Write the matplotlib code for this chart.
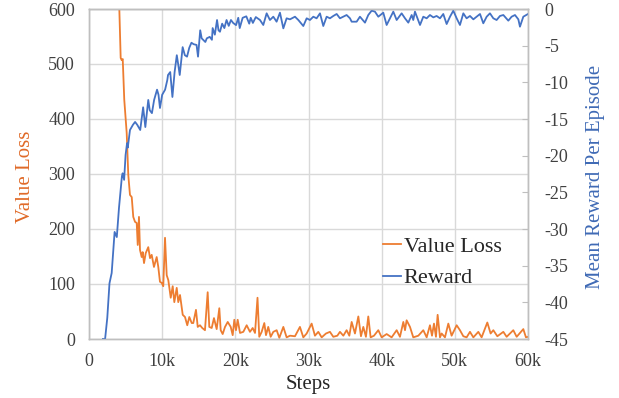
import matplotlib
matplotlib.use("Agg")
import matplotlib.pyplot as plt
from matplotlib.ticker import FuncFormatter

plt.rcParams['font.family'] = ['Liberation Serif', 'DejaVu Serif']
plt.rcParams['axes.unicode_minus'] = False

# ---- Reward (right axis) : steps in thousands ----
reward_steps_k = [1.9, 2.2, 2.5, 2.8, 3.1, 3.5, 3.8, 4.1, 4.5, 4.6, 4.8, 5.0, 5.2, 5.3, 5.6,
                  6.0, 6.3, 6.6, 7.0, 7.4, 7.7, 8.1, 8.3, 8.6, 8.9, 9.3, 9.5, 9.7, 10.0,
                  10.4, 10.7, 10.8, 11.1, 11.4, 11.7, 12.0, 12.2, 12.4, 12.8, 13.1, 13.4,
                  13.7, 14.0, 14.3, 14.7, 14.9, 15.2, 15.4, 15.9, 16.1, 16.5, 16.8, 16.9,
                  17.2, 17.5, 17.7, 17.9, 18.2, 18.5, 18.8, 19.1, 19.4, 19.7, 20.1, 20.4,
                  20.6, 21.0, 21.5, 21.9, 22.1, 22.4, 22.8,
                  23.37, 23.82, 24.28, 24.73, 25.19, 25.64, 26.10, 26.56, 27.01, 27.47,
                  28.15, 28.61, 29.29, 29.75, 30.20, 30.66, 31.11, 31.57, 32.02, 32.48,
                  32.93, 33.39, 33.85, 34.30, 34.76, 35.21, 35.67, 35.90, 36.58, 37.03,
                  37.72, 38.17, 38.63, 39.08, 39.54, 40.22, 40.68, 41.14, 41.59, 42.05,
                  42.73, 43.19, 43.64, 44.10, 44.32, 44.55, 45.24, 45.69, 46.15, 46.60,
                  47.06, 47.51, 47.97, 48.42, 48.88, 49.34, 49.79, 50.25, 50.70, 51.16,
                  51.61, 52.07, 52.53, 52.98, 53.44, 53.89, 54.35, 54.80, 55.26, 55.71,
                  56.17, 56.63, 57.31, 57.76, 58.22, 58.68, 58.90, 59.36, 60.0]
reward_values = [-45.0, -45.0, -42.1, -37.4, -36.0, -30.4, -31.1, -27.1, -22.8, -22.4, -23.3,
                 -19.9, -18.3, -18.9, -16.5, -15.8, -15.4, -15.8, -16.5, -13.4, -16.1, -12.4,
                 -13.8, -14.2, -12.4, -11.0, -11.7, -13.5, -11.7, -11.0, -9.7, -9.0, -8.6,
                 -12.0, -8.6, -6.3, -7.6, -9.0, -5.2, -6.3, -6.5, -5.3, -4.6, -4.8, -4.9,
                 -6.5, -2.9, -4.0, -4.5, -4.0, -3.8, -4.2, -2.6, -3.5, -1.5, -2.9, -3.1,
                 -2.0, -2.6, -1.5, -2.3, -1.5, -1.9, -2.2, -1.2, -2.6, -1.2, -1.0, -2.0,
                 -1.2, -1.9, -1.1,
                 -1.50, -2.18, -0.59, -1.50, -1.05, -1.73, -0.50, -2.64, -1.27, -1.41,
                 -1.05, -1.50, -2.32, -1.27, -1.50, -1.05, -1.27, -0.59, -2.32, -1.05,
                 -1.27, -0.95, -0.68, -1.27, -1.05, -0.82, -1.27, -1.73, -1.73, -1.05,
                 -1.86, -0.82, -0.23, -0.36, -1.05, -0.50, -2.18, -1.27, -0.36, -1.50,
                 -0.59, -1.27, -1.86, -0.82, -1.50, -0.36, -2.18, -1.05, -1.27, -0.82,
                 -1.14, -0.95, -1.27, -0.68, -2.05, -1.05, -0.23, -1.27, -2.18, -0.59,
                 -1.27, -0.95, -1.41, -1.05, -0.68, -1.95, -1.05, -0.59, -1.27, -1.50,
                 -0.95, -0.82, -1.59, -1.05, -0.82, -1.41, -2.41, -1.05, -0.68]

# ---- Value loss (left axis) ----
loss_steps_k = [4.0, 4.14, 4.33, 4.47, 4.61, 4.82, 5.15, 5.37, 5.60, 5.84, 6.05, 6.29, 6.52,
                6.66, 6.83, 6.97, 7.20, 7.34, 7.52, 7.75, 8.10, 8.34, 8.57, 8.88, 9.25,
                9.47, 9.70, 9.94, 10.15, 10.39, 10.62, 10.84, 11.17, 11.44, 11.66, 11.99,
                12.20, 12.44, 12.81, 13.12, 13.43, 13.71, 14.04, 14.25, 14.62, 14.86,
                15.17, 15.48, 15.85, 16.22, 16.44, 16.77, 17.08, 17.45, 17.81, 18.00,
                18.27, 18.59, 18.96, 19.37, 19.64, 19.86, 20.09, 20.32, 20.64, 21.09,
                21.55, 22.00, 22.37, 22.69, 23.03, 23.27, 23.60, 23.96, 24.19, 24.50,
                24.83, 25.19, 25.65, 26.01,
                26.56, 27.01, 27.47, 28.15, 28.83, 29.29, 29.75, 30.43, 30.88, 31.34,
                31.80, 32.39, 32.93, 33.39, 33.94, 34.30, 34.76, 35.21, 35.58, 35.90,
                36.35, 36.81, 37.17, 37.49, 37.85, 38.17, 38.49, 38.95, 39.54, 40.00,
                40.68, 41.36, 42.05, 42.50, 42.96, 43.19, 43.41, 43.87, 44.32, 45.01,
                45.69, 46.15, 46.60, 46.88, 47.15, 47.42, 47.65, 47.97, 48.20, 48.65,
                49.11, 49.56, 50.25, 50.70, 51.16, 51.61, 52.07, 52.53, 53.21, 53.66,
                54.44, 54.89, 55.26, 55.81, 56.63, 57.08, 57.99, 58.45, 59.36, 59.72, 60.0]
loss_values = [700, 602, 511, 507, 509, 435, 375, 298, 262, 258, 222, 213, 211, 171, 222,
               162, 149, 158, 138, 156, 167, 147, 153, 131, 149, 131, 104, 102, 96, 184,
               116, 107, 75, 96, 67, 93, 67, 80, 44, 40, 25, 40, 29, 29, 53, 22, 25, 20,
               16, 85, 22, 20, 38, 18, 56, 16, 9, 22, 31, 22, 7, 35, 16, 35, 11, 13, 25,
               13, 20, 11, 75, 4, 13, 29, 7, 22, 4, 13, 16, 2,
               22, 3, 6, 5, 22, 3, 10, 28, 6, 13, 3, 10, 13, 4, 6, 13, 6, 16, 6, 31,
               10, 41, 5, 22, 4, 41, 3, 6, 16, 3, 9, 3, 16, 4, 31, 16, 34, 22, 3, 6,
               16, 3, 25, 6, 28, 4, 44, 3, 10, 3, 28, 6, 25, 16, 5, 3, 13, 3, 13, 3,
               30, 10, 16, 5, 13, 4, 16, 4, 18, 3, 4]

x_ticks_k = [0, 10, 20, 30, 40, 50, 60]
loss_ticks = [0, 100, 200, 300, 400, 500, 600]
reward_ticks = [-45, -40, -35, -30, -25, -20, -15, -10, -5, 0]

ORANGE = '#ED7D31'
BLUE = '#4472C4'
TICKC = '#404040'

fig = plt.figure(figsize=(6.19, 3.98), dpi=100)
ax = fig.add_axes([89/619, 1-339/398, (528-89)/619, (339-9)/398])
ax2 = ax.twinx()

l1, = ax.plot([s*1000 for s in loss_steps_k], loss_values, color=ORANGE, lw=1.3, label='Value Loss')
l2, = ax2.plot([s*1000 for s in reward_steps_k], reward_values, color=BLUE, lw=1.3, label='Reward')

ax.set_xlim(0, 60000)
ax.set_ylim(0, 600)
ax2.set_ylim(-45, 0)
ax.set_xticks([k*1000 for k in x_ticks_k])
ax.xaxis.set_major_formatter(FuncFormatter(lambda v, p: '0' if v == 0 else f'{int(v/1000)}k'))
ax.set_yticks(loss_ticks)
ax2.set_yticks(reward_ticks)

ax.grid(True, color='#D9D9D9', lw=1.0)
ax.set_axisbelow(True)
for a in (ax, ax2):
    for sp in a.spines.values():
        sp.set_color('#BFBFBF')
        sp.set_linewidth(1.0)
ax.spines['top'].set_color('#A6A6A6')

ax.tick_params(axis='both', which='both', length=0, labelsize=13, labelcolor=TICKC, pad=10)
ax.tick_params(axis='x', pad=10)
ax2.tick_params(axis='y', direction='in', length=4, color='#BFBFBF', labelsize=13,
                labelcolor=TICKC, pad=12)

ax.set_xlabel('Steps', fontsize=15, color='#262626')
ax.xaxis.set_label_coords(0.5, -0.11)
ax.set_ylabel('Value Loss', fontsize=15, color='#E06A28')
ax.yaxis.set_label_coords(-0.123, 0.49)
ax2.set_ylabel('Mean Reward Per Episode', fontsize=15, color='#3F6AB5')
ax2.yaxis.set_label_coords(1.132, 0.49)

leg = ax.legend(handles=[l1, l2], loc='upper left', bbox_to_anchor=(0.670, 0.31),
                frameon=False, fontsize=16, handlelength=0.81, handletextpad=0.12,
                labelspacing=0.48, borderaxespad=0, borderpad=0)
for t in leg.get_texts():
    t.set_color('#262626')

fig.savefig('out.png', dpi=100)
